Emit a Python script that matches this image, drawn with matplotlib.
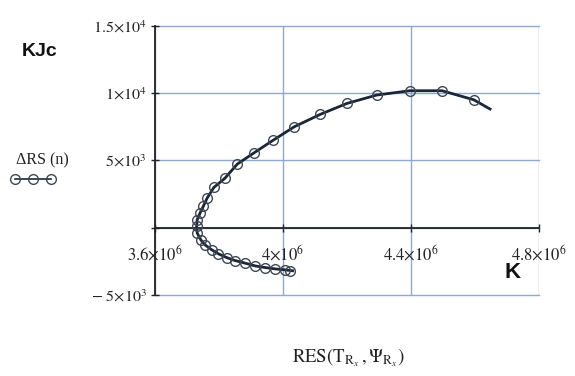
import matplotlib
matplotlib.use("Agg")
import matplotlib.pyplot as plt
from matplotlib.lines import Line2D
from matplotlib.ticker import FixedLocator, FixedFormatter

plt.rcParams['mathtext.fontset'] = 'stix'

# ---- data ----
mk_x = [4.022e6, 4.006e6, 3.975e6, 3.944e6, 3.913e6, 3.881e6, 3.850e6, 3.824e6,
        3.798e6, 3.777e6, 3.756e6, 3.743e6, 3.732e6, 3.730e6, 3.732e6, 3.741e6,
        3.751e6, 3.763e6, 3.784e6, 3.818e6, 3.857e6, 3.909e6, 3.969e6, 4.035e6,
        4.116e6, 4.200e6, 4.293e6, 4.396e6, 4.497e6, 4.596e6]
mk_y = [-3190, -3130, -3060, -2960, -2840, -2630, -2440, -2220,
        -1940, -1640, -1270, -900, -400, 100, 600, 1100,
        1590, 2200, 2990, 3660, 4720, 5550, 6490, 7490,
        8410, 9230, 9850, 10170, 10170, 9500]

line_x = [4.030e6, 4.006e6, 3.975e6, 3.944e6, 3.913e6, 3.881e6, 3.850e6, 3.824e6,
          3.798e6, 3.777e6, 3.756e6, 3.743e6, 3.732e6, 3.730e6, 3.732e6, 3.741e6,
          3.751e6, 3.763e6, 3.784e6, 3.818e6, 3.857e6, 3.909e6, 3.969e6, 4.035e6,
          4.116e6, 4.200e6, 4.293e6, 4.396e6, 4.497e6, 4.596e6, 4.647e6]
line_y = [-3200, -3130, -3060, -2960, -2840, -2630, -2440, -2220,
          -1940, -1640, -1270, -900, -400, 100, 600, 1100,
          1590, 2200, 2990, 3660, 4720, 5550, 6490, 7490,
          8410, 9230, 9850, 10170, 10170, 9500, 8810]

x_ticks = [3.6e6, 4.0e6, 4.4e6, 4.8e6]
x_tick_labels = [r'$3.6{\times}10^{6}$', r'$4{\times}10^{6}$',
                 r'$4.4{\times}10^{6}$', r'$4.8{\times}10^{6}$']
y_ticks = [-5000, 0, 5000, 10000, 15000]
y_tick_labels = [r'$-\ 5{\times}10^{3}$', '', r'$5{\times}10^{3}$',
                 r'$1{\times}10^{4}$', r'$1.5{\times}10^{4}$']

legend_label = 'ΔRS (n)'
y_unit = 'KJc'
x_unit = 'K'
x_label = r'$\mathrm{RES}\left(\mathrm{T}_{\mathrm{R}_{x}}\,,\Psi_{\mathrm{R}_{x}}\right)$'

# ---- figure ----
W, H = 575, 376
fig = plt.figure(figsize=(W / 100, H / 100), dpi=100)
ax = fig.add_axes([155 / W, (H - 295) / H, (539 - 155) / W, (295 - 25.7) / H])

grid_c = '#8fa8d2'
line_c = '#1b2636'

ax.plot(line_x, line_y, color=line_c, lw=2.0, zorder=3)
ax.plot(mk_x, mk_y, color=line_c, lw=0.8, marker='o', markersize=7,
        markerfacecolor='none', markeredgecolor='#3e4753', markeredgewidth=1.0, zorder=4)

ax.set_xlim(3.6e6, 4.8e6)
ax.set_ylim(-5000, 15000)

ax.xaxis.set_major_locator(FixedLocator(x_ticks))
ax.xaxis.set_major_formatter(FixedFormatter(x_tick_labels))
ax.yaxis.set_major_locator(FixedLocator(y_ticks))
ax.yaxis.set_major_formatter(FixedFormatter(y_tick_labels))

ax.grid(True, color=grid_c, lw=1.0, zorder=0)
ax.set_axisbelow(True)
for gl in ax.get_xgridlines() + ax.get_ygridlines():
    gl.set_clip_on(False)

for s in ['top', 'right']:
    ax.spines[s].set_visible(False)
ax.spines['bottom'].set_position(('data', 0))
ax.spines['bottom'].set_color('#222222')
ax.spines['left'].set_color('#222222')
ax.spines['bottom'].set_linewidth(1.3)
ax.spines['left'].set_linewidth(1.3)
ax.spines['bottom'].set_zorder(2)
ax.spines['left'].set_zorder(2)

ax.tick_params(axis='x', direction='inout', length=6, width=1.0, colors='#222222',
               labelsize=12, pad=9, labelcolor='#222222')
ax.tick_params(axis='y', direction='inout', length=6, width=1.0, colors='#222222',
               labelsize=11.5, pad=3, labelcolor='#222222')

# axis texts
fig.text(22 / W, 1 - 51 / H, y_unit, fontsize=14, fontweight='bold',
         family='Liberation Sans', va='center', ha='left', color='#111111')
fig.text(505 / W, 1 - 273 / H, x_unit, fontsize=16, fontweight='bold',
         family='Liberation Sans', va='center', ha='left', color='#111111')
fig.text(16 / W, 1 - 160 / H, legend_label, fontsize=11.5, family='Liberation Serif',
         va='center', ha='left', color='#222222')
fig.add_artist(Line2D([15 / W, 33 / W, 51 / W], [1 - 179 / H] * 3, transform=fig.transFigure,
                      color=line_c, lw=1.2, marker='o', markersize=7,
                      markerfacecolor='none', markeredgecolor='#3e4753', markeredgewidth=1.0))
fig.text(348 / W, 1 - 358 / H, x_label, fontsize=13.5, va='center', ha='center', color='#222222')

fig.savefig('out.png', dpi=100, facecolor='white')
